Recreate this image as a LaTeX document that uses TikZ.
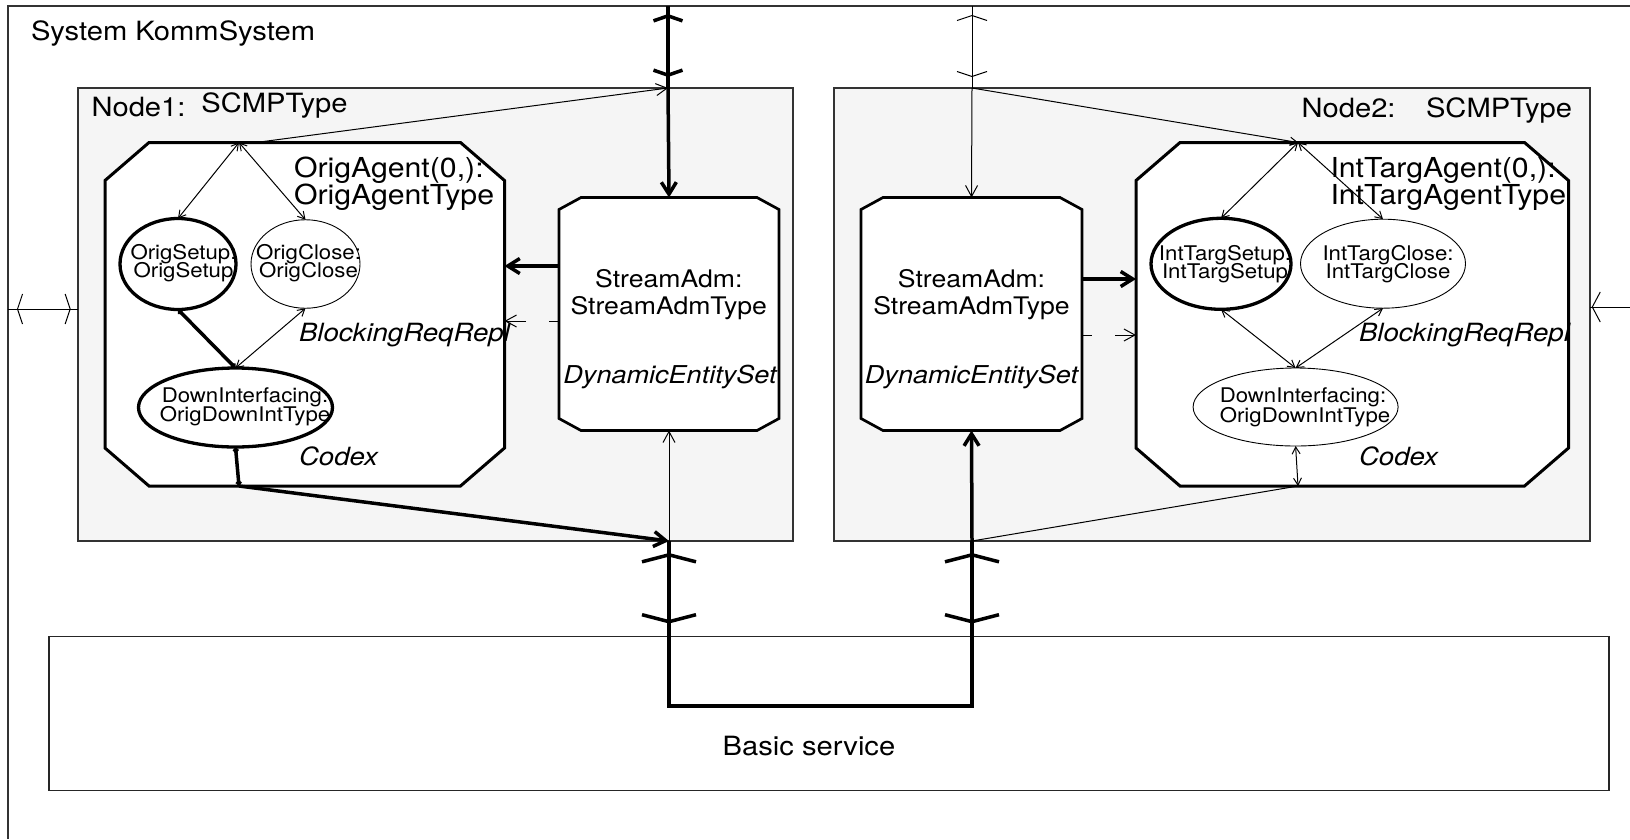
\documentclass[tikz,border=0pt]{standalone}
\usepackage{fontspec}
\setmainfont{TeX Gyre Heros}[FakeStretch=1.10]
\usetikzlibrary{arrows.meta,calc,shapes.geometric}

\newcommand\lblsize[1]{\fontsize{#1}{#1}\selectfont}
% octagonal outline drawn on the corners of an (invisible) rectangular node
\newcommand\chamferoutline[4]{%
  \draw[#4] ($(#1.north west)+(#2,0)$) -- ($(#1.north east)+(-#2,0)$)
    -- ($(#1.north east)+(0,#3)$) -- ($(#1.south east)+(0,-#3)$)
    -- ($(#1.south east)+(-#2,0)$) -- ($(#1.south west)+(#2,0)$)
    -- ($(#1.south west)+(0,-#3)$) -- ($(#1.north west)+(0,#3)$) -- cycle;}

\begin{document}
\begin{tikzpicture}[x=1pt,y=-1pt,
  every node/.style={inner sep=0pt,outer sep=0pt},
  framepen/.style={draw=black!80,line width=1.3pt},
  nodebox/.style={draw=black!80,fill=black!4,line width=1.3pt},
  servicebox/.style={draw=black!85,fill=white,line width=1.8pt},
  agentpen/.style={draw=black,fill=white,line width=3pt},
  adminpen/.style={draw=black,fill=white,line width=2.7pt},
  thickell/.style={draw=black,fill=white,line width=3.3pt},
  thinell/.style={draw=black,fill=white,line width=0.9pt},
  thinline/.style={line width=1pt},
  thickline/.style={line width=3.5pt},
  arrthin/.style={thinline,-{Straight Barb[length=11pt,width=12pt]}},
  arrthick/.style={thickline,-{Straight Barb[length=12pt,width=15pt]}},
  bismall/.style={thinline,{Straight Barb[length=7pt,width=8pt]}-{Straight Barb[length=7pt,width=8pt]}},
  bithick/.style={thickline,{Straight Barb[length=2pt,width=4pt]}-{Straight Barb[length=2pt,width=4pt]}},
  chevthin/.style={thinline,{Straight Barb[length=5pt,width=30pt]}-{Straight Barb[length=5pt,width=30pt]}},
  chevthick/.style={thickline,{Straight Barb[length=5pt,width=29pt]}-{Straight Barb[length=5pt,width=29pt]}},
  chevbig/.style={thickline,{Straight Barb[length=7pt,width=54pt]}-{Straight Barb[length=7pt,width=54pt]}},
  dashgap/.style={dash pattern=on 10pt off 23pt on 60pt},
  biglabel/.style={font=\lblsize{26.5},anchor=base west},
  agentlabel/.style={font=\lblsize{27.5},anchor=base west},
  adminlabel/.style={font=\lblsize{24.2},anchor=base},
  kindlabel/.style={font=\itshape\lblsize{25.1},anchor=base west},
  setlabel/.style={font=\itshape\lblsize{24.6},anchor=base},
  proclabel/.style={font=\lblsize{20.2},anchor=base}]

\useasboundingbox (0,0) rectangle (1630,839);

% system frame (continues past the right and bottom edges)
\draw[framepen] (8,839) -- (8,6) -- (1630,6);
\node[biglabel] (systitle) at (31,40) {System KommSystem};

% block instances
\node[nodebox,anchor=north west,minimum width=715pt,minimum height=453pt] (n1) at (78,88) {};
\node[nodebox,anchor=north west,minimum width=756pt,minimum height=453pt] (n2) at (834,88) {};
\node[servicebox,anchor=north west,minimum width=1560pt,minimum height=154pt] (bs) at (49,636.5) {};
\node[biglabel,anchor=base] (bstext) at (809,755) {Basic service};

\node[biglabel] (n1name) at (91.5,116.7) {Node1:};
\node[biglabel] (n1type) at (201.4,112.5) {SCMPType};
\node[biglabel] (n2name) at (1301.6,117) {Node2:};
\node[biglabel] (n2type) at (1426,117) {SCMPType};

% process sets
\node[anchor=north west,minimum width=399.5pt,minimum height=343.5pt] (ag1) at (105,142.5) {};
\chamferoutline{ag1}{44}{38}{agentpen}
\node[anchor=north west,minimum width=432.5pt,minimum height=343.5pt] (ag2) at (1136,142.5) {};
\chamferoutline{ag2}{44}{38}{agentpen}
\node[anchor=north west,minimum width=220pt,minimum height=233pt] (sa1) at (559,197.5) {};
\chamferoutline{sa1}{22}{12}{adminpen}
\node[anchor=north west,minimum width=221pt,minimum height=233pt] (sa2) at (861,197.5) {};
\chamferoutline{sa2}{22}{12}{adminpen}

\node[agentlabel] (ag1name) at (294,177) {OrigAgent(0,):};
\node[agentlabel] (ag1type) at (294,204) {OrigAgentType};
\node[agentlabel] (ag2name) at (1330.5,177) {IntTargAgent(0,):};
\node[agentlabel] (ag2type) at (1330.5,204) {IntTargAgentType};
\node[kindlabel] (ag1kind) at (299,341.5) {BlockingReqRepl};
\node[kindlabel] (ag1code) at (299,465) {Codex};
\node[kindlabel] (ag2kind) at (1359,341.5) {BlockingReqRepl};
\node[kindlabel] (ag2code) at (1359,465) {Codex};

\node[adminlabel] (sa1name) at (668.8,287) {StreamAdm:};
\node[adminlabel] (sa1type) at (668.8,314) {StreamAdmType};
\node[setlabel] (sa1set) at (670,383.5) {DynamicEntitySet};
\node[adminlabel] (sa2name) at (971.5,287) {StreamAdm:};
\node[adminlabel] (sa2type) at (971.5,314) {StreamAdmType};
\node[setlabel] (sa2set) at (971.5,383.5) {DynamicEntitySet};

% services inside the agents
\node[ellipse,thickell,minimum width=116pt,minimum height=91pt] (os) at (178,264) {};
\node[ellipse,thinell,minimum width=109pt,minimum height=88.5pt] (oc) at (305.5,264) {};
\node[ellipse,thickell,minimum width=194pt,minimum height=79pt] (di1) at (235.5,407.5) {};
\node[ellipse,thickell,minimum width=140pt,minimum height=91pt] (its) at (1221,263.8) {};
\node[ellipse,thinell,minimum width=165pt,minimum height=89pt] (itc) at (1383,263.7) {};
\node[ellipse,thinell,minimum width=205pt,minimum height=78pt] (di2) at (1295.6,407) {};

\node[proclabel] (ostop) at (183.5,259) {OrigSetup:};
\node[proclabel] (osbot) at (183.5,277.5) {OrigSetup};
\node[proclabel] (octop) at (308.5,259) {OrigClose:};
\node[proclabel] (ocbot) at (308.5,277.5) {OrigClose};
\node[proclabel] (di1top) at (245,402.5) {DownInterfacing:};
\node[proclabel] (di1bot) at (245,421.5) {OrigDownIntType};
\node[proclabel] (itstop) at (1225,260) {IntTargSetup:};
\node[proclabel] (itsbot) at (1225,278.5) {IntTargSetup};
\node[proclabel] (itctop) at (1388,260) {IntTargClose:};
\node[proclabel] (itcbot) at (1388,278.5) {IntTargClose};
\node[proclabel] (di2top) at (1303,402.5) {DownInterfacing:};
\node[proclabel] (di2bot) at (1305,422) {OrigDownIntType};

% gates and connection points
\coordinate (T1top) at (668,6);   \coordinate (T1) at (668,88);
\coordinate (T2top) at (972,6);   \coordinate (T2) at (972,88);
\coordinate (B1) at (669,541);    \coordinate (B2) at (972,541);
\coordinate (BJ1) at (669,706);   \coordinate (BJ2) at (972,706);
\coordinate (L1) at (8,309);      \coordinate (L1in) at (78,309);
\coordinate (R2) at (1630,307);   \coordinate (R2in) at (1590,307);
\coordinate (P1) at (239,142.5);  \coordinate (P1o) at (256,142.5);
\coordinate (P2) at (239,486);
\coordinate (Q1) at (1298,142.5); \coordinate (Q2) at (1298,486);
\coordinate (y266) at (0,266);    \coordinate (y321) at (0,321);
\coordinate (y279) at (0,279);    \coordinate (y335) at (0,335);

% channels of the system
\draw[thickline] (T1top) -- (T1);
\draw[chevthick] ($(T1top)+(0,8)$) -- ($(T1)+(0,-11)$);
\draw[thinline] (T2top) -- (T2);
\draw[chevthin] ($(T2top)+(0,9)$) -- ($(T2)+(0,-11)$);
\draw[thickline] (B1) -- (BJ1) -- (BJ2) -- (B2);
\draw[chevbig] ($(B1)+(0,12)$) -- ($(B1 |- bs.north)+(0,-13)$);
\draw[chevbig] ($(B2)+(0,12)$) -- ($(B2 |- bs.north)+(0,-13)$);
\draw[thinline] (L1) -- (L1in);
\draw[chevthin] ($(L1)+(9,0)$) -- ($(L1in)+(-7.3,0)$);
\draw[thinline] (R2) -- (R2in);
\draw[thinline,-{Straight Barb[length=8pt,width=30pt]}] ($(R2in)+(20,0)$) -- ($(R2in)+(1.7,0)$);

% Node1 routes
\draw[arrthin] (P1o) -- (T1);
\draw[arrthick] (T1) -- (sa1.north);
\draw[arrthick] (sa1.west |- y266) -- (ag1.east |- y266);
\draw[arrthin,dashgap] (sa1.west |- y321) -- (ag1.east |- y321);
\draw[arrthin] (B1) -- (sa1.south);
\draw[arrthick] (P2) -- (B1);
\draw[bismall] (P1) -- (os.north);
\draw[bismall] (P1) -- (oc.north);
\draw[bithick] (os.south) -- (di1.north);
\draw[bismall] (di1.north) -- (oc.south);
\draw[bithick] (di1.south) -- (P2);

% Node2 routes
\draw[arrthin] (T2) -- (sa2.north);
\draw[thinline,-{Straight Barb[length=7pt,width=8pt]}] (T2) -- (Q1);
\draw[arrthick] (sa2.east |- y279) -- (ag2.west |- y279);
\draw[arrthin,dashgap] (sa2.east |- y335) -- (ag2.west |- y335);
\draw[arrthick] (B2) -- (sa2.south);
\draw[thinline] (Q2) -- (B2);
\draw[bismall] (Q1) -- (its.north);
\draw[bismall] (Q1) -- (itc.north);
\draw[bismall] (its.south) -- (di2.north);
\draw[bismall] (itc.south) -- (di2.north);
\draw[bismall] (di2.south) -- (Q2);
\end{tikzpicture}
\end{document}
